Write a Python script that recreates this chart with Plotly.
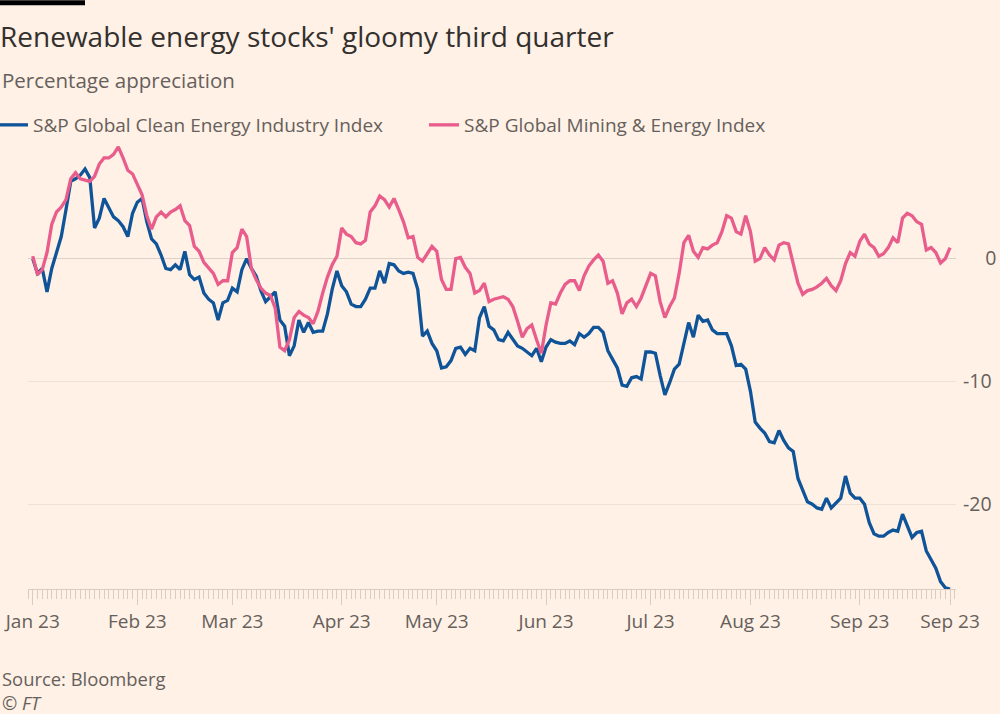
import pandas as pd
import plotly.graph_objects as go

# ---- data (percentage appreciation, one value per weekday) ----
months = ["2023-01", "2023-02", "2023-03", "2023-04", "2023-05", "2023-06", "2023-07", "2023-08", "2023-09"]
month_ends = ["2023-01-31", "2023-02-28", "2023-03-31", "2023-04-30", "2023-05-31", "2023-06-30", "2023-07-31", "2023-08-31", "2023-09-28"]

clean_energy = {
    "Jan": [0.0, -1.2, -0.8, -2.7, -0.8, 0.5, 1.8, 4.0, 6.3, 6.5, 6.8, 7.3, 6.6, 2.5, 3.3, 4.9, 4.1, 3.4, 3.1, 2.6, 1.8, 3.7],
    "Feb": [4.6, 4.9, 3.0, 1.6, 1.2, 0.3, -0.8, -0.9, -0.5, -0.9, 0.6, -1.3, -1.7, -1.5, -2.8, -3.3, -3.6, -5.0, -3.6, -3.4],
    "Mar": [-2.4, -2.7, -0.9, 0.0, -0.8, -1.4, -2.6, -3.5, -3.1, -2.7, -5.0, -5.5, -7.9, -7.1, -5.0, -6.0, -5.2, -6.0, -5.9, -5.9, -4.5, -2.5, -1.0],
    "Apr": [-2.2, -2.7, -3.7, -3.9, -3.9, -3.3, -2.4, -2.4, -1.0, -2.0, -0.4, -0.5, -1.0, -1.2, -1.1, -1.2, -2.5, -6.3, -5.9, -6.9],
    "May": [-7.5, -8.9, -8.8, -8.3, -7.3, -7.2, -7.8, -7.3, -7.5, -4.8, -3.9, -5.5, -5.8, -6.6, -6.7, -6.0, -6.6, -7.1, -7.3, -7.6, -7.9, -7.3, -8.4],
    "Jun": [-7.2, -6.6, -6.8, -6.9, -6.9, -6.7, -7.0, -6.1, -6.4, -6.1, -5.6, -5.6, -6.0, -7.5, -8.2, -8.9, -10.3, -10.4, -9.7, -9.6, -9.8, -7.6],
    "Jul": [-7.6, -7.7, -9.5, -11.1, -10.1, -9.0, -8.6, -6.9, -5.2, -6.4, -4.6, -5.1, -5.0, -5.8, -6.1, -6.1, -6.1, -7.1, -8.7, -8.6, -9.0],
    "Aug": [-10.8, -13.3, -13.8, -14.2, -14.9, -15.0, -14.0, -14.8, -15.4, -15.7, -17.9, -18.9, -19.8, -20.0, -20.3, -20.4, -19.5, -20.3, -19.9, -19.5, -17.7, -19.1, -19.5],
    "Sep": [-19.5, -20.0, -21.5, -22.4, -22.6, -22.6, -22.3, -22.1, -22.2, -20.8, -21.8, -22.7, -22.3, -22.2, -23.8, -24.5, -25.2, -26.3, -26.8, -26.9],
}

mining_energy = {
    "Jan": [0.2, -1.3, -0.9, 0.5, 2.8, 3.8, 4.2, 4.8, 6.5, 7.0, 6.5, 6.4, 6.3, 6.7, 7.7, 8.2, 8.2, 8.5, 9.1, 8.2, 7.2, 6.9],
    "Feb": [6.0, 5.2, 3.5, 2.4, 3.4, 3.8, 3.4, 3.8, 4.0, 4.3, 3.1, 2.7, 1.0, 0.6, -0.3, -0.8, -1.2, -2.1, -1.8, -1.8],
    "Mar": [0.5, 0.9, 2.4, 1.8, -0.8, -1.7, -2.4, -2.8, -3.0, -4.0, -7.2, -7.5, -6.6, -4.8, -4.3, -4.6, -4.8, -5.3, -4.3, -2.8, -1.5, -0.5, 0.2],
    "Apr": [2.5, 2.0, 1.8, 1.3, 1.2, 1.5, 3.8, 4.3, 5.1, 4.8, 4.2, 4.9, 4.0, 3.0, 1.7, 1.8, 0.1, -0.2, 0.4, 1.0],
    "May": [0.6, -1.7, -2.5, -2.5, 0.0, 0.1, -0.7, -1.2, -2.8, -2.6, -2.0, -3.5, -3.3, -3.2, -3.1, -3.3, -3.9, -5.1, -6.4, -5.7, -5.4, -6.6, -7.7],
    "Jun": [-5.4, -3.6, -3.7, -2.8, -2.1, -1.8, -1.8, -2.6, -1.4, -0.6, -0.1, 0.3, -0.2, -2.0, -1.8, -2.8, -4.5, -3.6, -3.3, -3.9, -3.2, -2.2],
    "Jul": [-1.2, -1.4, -3.5, -4.8, -3.9, -3.2, -1.2, 1.3, 1.9, 0.6, 0.1, 0.9, 0.8, 1.1, 1.3, 2.2, 3.5, 3.3, 2.2, 2.0, 3.5],
    "Aug": [2.2, -0.2, 0.0, 0.9, 0.3, -0.1, 1.1, 1.3, 1.2, -0.5, -2.0, -2.9, -2.6, -2.5, -2.3, -2.0, -1.6, -2.2, -2.6, -1.8, -0.4, 0.5, 0.2],
    "Sep": [1.4, 2.0, 1.2, 0.9, 0.2, 0.4, 0.9, 1.7, 1.3, 3.3, 3.7, 3.5, 3.0, 2.8, 0.7, 0.9, 0.5, -0.35, 0.0, 0.9],
}

series_names = ["S&P Global Clean Energy Industry Index", "S&P Global Mining & Energy Index"]
y_ticks = [0, -10, -20]

# ---- build table ----
dates, blue, pink = [], [], []
for m, end, key in zip(months, month_ends, clean_energy.keys()):
    d = pd.bdate_range(m + "-01", end)
    dates += list(d)
    blue += clean_energy[key]
    pink += mining_energy[key]
df = pd.DataFrame({"date": dates, "clean": blue, "mining": pink})

month_starts = [pd.bdate_range(m + "-01", periods=1)[0] for m in months]
tick_dates = month_starts + [df["date"].iloc[-1]]
tick_text = [d.strftime("%b %y") for d in tick_dates]

BG = "#FFF1E5"
GREY = "#66605C"
FONT = "Open Sans"

# plot-area pixel geometry
L, R, T, B = 28, 956, 142, 589.5
W, H = R - L, B - T
def px(x):
    return (x - L) / W
def py(y):
    return (B - y) / H

fig = go.Figure()
fig.add_trace(go.Scatter(x=df["date"], y=df["clean"], mode="lines", name=series_names[0],
                         line=dict(color="#0F5499", width=3.3)))
fig.add_trace(go.Scatter(x=df["date"], y=df["mining"], mode="lines", name=series_names[1],
                         line=dict(color="#E95D8C", width=3.3)))

fig.update_layout(
    width=1000, height=714,
    autosize=False,
    paper_bgcolor=BG, plot_bgcolor=BG,
    margin=dict(l=L, r=1000 - R, t=T, b=714 - B, pad=0, autoexpand=False),
    font=dict(family=FONT, color=GREY, size=19),
    showlegend=True,
    legend=dict(orientation="h", xref="container", yref="container",
                x=0, xanchor="left", y=1 - 125 / 714, yanchor="middle",
                indentation=-7,
                font=dict(size=19, color=GREY), bgcolor="rgba(0,0,0,0)",
                itemwidth=30, entrywidth=393, entrywidthmode="pixels", itemclick=False),
    title=dict(text="Renewable energy stocks' gloomy third quarter", xref="container", yref="container",
               x=0.0, xanchor="left", y=1 - 37 / 714, yanchor="middle",
               font=dict(family=FONT, size=28, color="#33302E")),
    hovermode=False,
)

fig.update_xaxes(
    type="date",
    rangebreaks=[dict(bounds=["sat", "mon"])],
    range=["2022-12-30 00:00", "2023-09-29 06:00"],
    tickvals=tick_dates, ticktext=tick_text,
    ticks="outside", ticklen=15, tickcolor="#D9CCC1", tickwidth=1,
    showline=True, linecolor="#D9CCC1", linewidth=1,
    showgrid=False, zeroline=False,
    tickfont=dict(size=19, color=GREY),
    minor=dict(ticks="outside", ticklen=9, tickcolor="#D9CCC1", dtick=86400000, showgrid=False),
    automargin=False,
)

fig.update_yaxes(
    side="right", range=[-26.9, 9.5],
    tickvals=y_ticks, ticktext=["\u2007\u20070", "-10", "-20"],
    ticks="", showline=False,
    showgrid=True, gridcolor="#EDE2D8", gridwidth=1,
    zeroline=True, zerolinecolor="#DCD1C7", zerolinewidth=1,
    tickfont=dict(size=19.5, color=GREY),
    ticklabelstandoff=6,
    automargin=False,
)

# top black bar
fig.add_shape(type="rect", xref="paper", yref="paper", x0=px(0), x1=px(85), y0=py(5), y1=py(0),
              fillcolor="#000000", line_width=0, layer="above")

fig.add_annotation(text="Percentage appreciation", xref="paper", yref="paper", x=px(0), y=py(80),
                   xanchor="left", yanchor="middle", showarrow=False, font=dict(size=20.5, color=GREY))
fig.add_annotation(text="Source: Bloomberg", xref="paper", yref="paper", x=px(0), y=py(679),
                   xanchor="left", yanchor="middle", showarrow=False, font=dict(size=18.4, color=GREY))
fig.add_annotation(text="<i>© FT</i>", xref="paper", yref="paper", x=px(0), y=py(703),
                   xanchor="left", yanchor="middle", showarrow=False, font=dict(size=18.4, color=GREY))

fig.write_html("out.html", config={"displayModeBar": False},
               post_script="document.body.style.margin='0';document.body.style.overflow='hidden';")
